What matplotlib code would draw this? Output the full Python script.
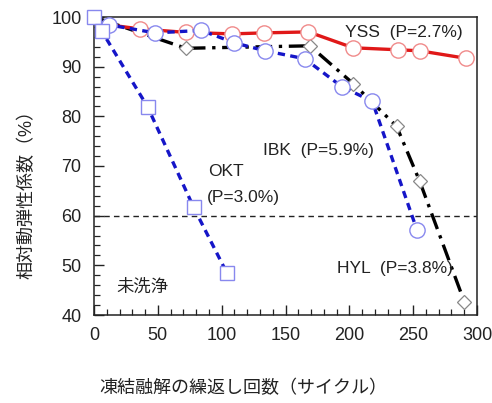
import matplotlib
matplotlib.use("Agg")
import matplotlib.pyplot as plt
from matplotlib.ticker import MultipleLocator

plt.rcParams['font.family'] = ['Liberation Sans', 'Noto Sans CJK JP', 'DejaVu Sans']

# Data
yss_x = [12, 36, 72, 108, 133, 168, 203, 238, 255, 291]
yss_y = [98.4, 97.6, 96.9, 96.6, 96.8, 97.0, 93.8, 93.4, 93.2, 91.7]

ibk_x = [0, 12, 48, 84, 110, 134, 165, 194, 218, 253]
ibk_y = [100, 98.4, 96.8, 97.3, 94.8, 93.2, 91.6, 86.0, 83.0, 57.1]

hyl_x = [0, 72, 169, 203, 237, 255, 290]
hyl_y = [100, 93.7, 94.2, 86.6, 78.0, 67.0, 42.7]

okt_x = [0, 6, 42, 78, 104]
okt_y = [100, 97.2, 81.9, 61.7, 48.5]

threshold = 60

fig = plt.figure(figsize=(4.92, 4.03), dpi=100)
ax = fig.add_axes([94/492, 1-315/403, (477-94)/492, (315-17)/403])

ax.axhline(threshold, color='#222222', lw=1.0, ls=(0, (4, 3)), zorder=1)

ax.plot(hyl_x, hyl_y, color='black', lw=2.4, ls=(0, (5, 2, 1, 2)),
        marker='D', ms=7.5, mfc='white', mec='#888888', mew=0.9, zorder=3,
        markevery=list(range(1, len(hyl_x))))
ax.plot(yss_x, yss_y, color='#e01818', lw=2.4, ls='-',
        marker='o', ms=11, mfc='white', mec='#f08a8a', mew=1.0, zorder=4,
        markevery=list(range(1, len(yss_x))))
ax.plot(ibk_x, ibk_y, color='#1515c8', lw=2.4, ls=(0, (2.2, 1.6)),
        marker='o', ms=11, mfc='white', mec='#8888ee', mew=1.0, zorder=5,
        markevery=list(range(1, len(ibk_x))))
ax.plot(okt_x, okt_y, color='#1515c8', lw=2.4, ls=(0, (2.2, 1.6)),
        marker='s', ms=10, mfc='white', mec='#8888ee', mew=1.0, zorder=6,
        clip_on=False)

ax.set_xlim(0, 300)
ax.set_ylim(40, 100)
ax.xaxis.set_major_locator(MultipleLocator(50))
ax.xaxis.set_minor_locator(MultipleLocator(10))
ax.yaxis.set_major_locator(MultipleLocator(10))
ax.yaxis.set_minor_locator(MultipleLocator(2))
ax.tick_params(which='both', direction='in', top=False, right=False,
               labelsize=13, color='#222222', labelcolor='#222222')
ax.tick_params(which='major', length=7, width=1.0, pad=9)
ax.tick_params(which='minor', length=4, width=0.9)
for s in ax.spines.values():
    s.set_linewidth(1.1)
    s.set_color('#222222')

fs = 12.5
def t(px, py, s):
    ax.text(px/492, 1-py/403, s, transform=fig.transFigure, fontsize=fs,
            va='center', ha='left', color='#222222', zorder=7)

t(345, 33, 'YSS  (P=2.7%)')
t(263, 151, 'IBK  (P=5.9%)')
t(208, 171, 'OKT')
t(207, 197, '(P=3.0%)')
t(337, 269, 'HYL  (P=3.8%)')
t(116, 287, '未洗浄')

fig.text(243/492, 1-388/403, '凍結融解の繰返し回数（サイクル）', fontsize=13,
         ha='center', va='center', color='#222222')
fig.text(27/492, 1-190/403, '相対動弾性係数（%）', fontsize=13, rotation=90,
         ha='center', va='center', color='#222222')

fig.savefig('out.png', dpi=100)
